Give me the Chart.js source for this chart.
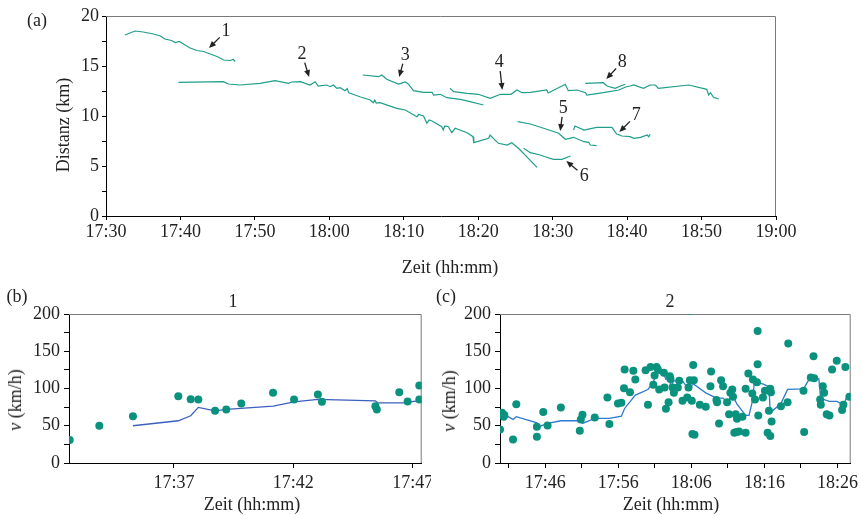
<!DOCTYPE html>
<html>
<head>
<meta charset="utf-8">
<script src="https://cdn.jsdelivr.net/npm/chart.js@4.4.0/dist/chart.umd.min.js"></script>
<style>
  body { margin: 0; width: 863px; height: 515px; overflow: hidden; position: relative; background: #fff;
         font-family: "Liberation Serif", "Times New Roman", serif; color: #222; }
  canvas { position: absolute; }
  .t { position: absolute; font-size: 18px; line-height: 1; white-space: nowrap; transform: translate(-50%, -50%); }
  .rot { transform: translate(-50%, -50%) rotate(-90deg); }
</style>
</head>
<body>
<canvas id="chart-a" width="863" height="280" style="left:0;top:0"></canvas>
<canvas id="chart-b" width="431" height="235" style="left:0;top:280px"></canvas>
<canvas id="chart-c" width="432" height="235" style="left:431px;top:280px"></canvas>

<div class="t" style="left:37px;top:20px">(a)</div>
<div class="t rot" style="left:63px;top:125px">Distanz (km)</div>
<div class="t" style="left:450px;top:267px">Zeit (hh:mm)</div>
<div class="t" style="left:17px;top:296px">(b)</div>
<div class="t" style="left:233px;top:301px">1</div>
<div class="t rot" style="left:15px;top:400px"><i>v</i> (km/h)</div>
<div class="t" style="left:252px;top:504px">Zeit (hh:mm)</div>
<div class="t" style="left:446px;top:296px">(c)</div>
<div class="t" style="left:670px;top:301px">2</div>
<div class="t rot" style="left:449px;top:401px"><i>v</i> (km/h)</div>
<div class="t" style="left:671px;top:504px">Zeit (hh:mm)</div>

<script>
// time values are minutes after 17:00
const track1 = [[32.55,18.1],[33.9,18.5],[35.0,18.4],[36.4,18.2],[37.3,18.0],[37.9,17.7],[38.8,17.55],[39.3,17.35],[39.85,17.45],[40.4,17.2],[41.3,16.8],[42.2,16.55],[43.1,16.45],[44.0,16.2],[44.9,15.95],[45.8,15.6],[46.7,15.55],[47.1,15.65],[47.35,15.45]];
const track2 = [[39.72,13.37],[45.77,13.43],[46.44,13.2],[48.0,13.1],[50.7,13.27],[52.7,13.53],[54.5,13.27],[54.96,13.4],[56.1,13.43],[57.4,13.1],[58.1,13.43],[58.5,13.0],[59.66,13.1],[60.1,12.93],[60.55,13.1],[61.0,12.77],[61.45,12.83],[62.1,12.53],[62.4,12.75],[62.6,12.33],[62.8,12.27],[64.1,11.93],[65.5,11.6],[65.9,11.33],[66.1,11.6],[66.3,11.3],[66.8,11.33],[69.06,10.77],[70.2,10.6],[71.76,9.93],[72.0,10.15],[72.65,10.0],[73.1,9.27],[73.4,9.6],[73.8,9.5],[75.1,8.93],[75.3,8.6],[75.5,9.0],[76.0,8.93],[76.45,8.33],[76.9,8.77],[78.5,8.33],[79.3,7.93],[79.4,7.33],[81.4,7.77],[81.6,8.1],[82.7,7.27],[83.9,7.1],[84.5,7.33],[85.4,6.77],[86.5,5.93],[87.9,4.87]];
const track3 = [[64.5,14.1],[66.6,13.93],[67.05,14.1],[67.7,13.67],[69.3,13.2],[70.2,13.4],[70.6,13.2],[71.3,12.53],[72.65,12.37],[73.8,12.37],[74.0,12.1],[74.9,12.17],[75.8,11.83],[77.6,11.67],[78.9,11.43],[80.7,11.1]];
const track4 = [[76.2,12.77],[76.7,12.43],[78.5,12.27],[80.0,12.17],[81.6,11.77],[83.0,12.17],[84.4,12.17],[85.2,12.6],[85.9,12.33],[87.0,12.37],[89.2,12.6],[89.4,12.3],[91.7,13.17],[92.1,12.53],[93.3,12.6],[94.4,12.33],[94.6,12.1],[96.8,12.33],[98.9,12.6],[99.8,12.9],[100.43,13.0],[100.87,13.1],[102.2,12.77],[103.1,13.1],[103.8,13.1],[104.2,12.77],[108.3,13.1],[110.7,12.67],[110.95,12.1],[111.2,12.33],[111.6,11.87],[112.3,11.7]];
const track5 = [[85.3,9.43],[87.0,9.2],[89.2,8.67],[90.8,8.27],[91.7,7.67],[92.8,7.87],[94.2,7.43],[94.85,7.37],[95.05,7.1],[95.9,7.03]];
const track6 = [[86.1,6.77],[87.0,6.33],[88.3,6.1],[89.0,5.93],[90.1,5.67],[91.25,5.67],[92.4,6.0]];
const track7 = [[92.8,8.6],[93.0,9.0],[94.2,8.6],[95.9,8.87],[97.96,8.87],[98.6,8.2],[99.3,8.0],[100.4,7.93],[100.9,7.77],[101.8,7.87],[102.7,8.1],[102.9,7.93],[103.1,8.17]];
const track8 = [[94.38,13.27],[96.8,13.33],[97.3,13.0],[98.4,12.77],[99.1,13.0],[99.76,13.17]];

// arrow labels in panel (a): text position and arrow tip, in data units
const markLabels = ["1","2","3","4","5","6","7","8"];
const markTextX = [46.13,56.34,70.19,82.82,91.42,94.25,101.24,99.35];
const markTextY = [18.5,16.2,16.1,15.4,10.8,4.0,10.1,15.4];
const markTipX = [43.84,57.28,69.38,83.23,91.02,91.83,98.95,97.2];
const markTipY = [16.8,13.9,13.9,12.6,8.5,5.5,8.4,13.7];

// panel (b): measured speeds and smoothed speed of vehicle 1
const speed1 = [[32.63,30.8],[33.87,50],[35.28,62.9],[37.18,89.7],[37.7,85.7],[38.02,85.3],[38.72,70.1],[39.19,71.9],[39.82,79.9],[41.15,94.2],[42.03,85.3],[43.03,92.0],[43.2,82.1],[45.44,76.3],[45.5,71.9],[46.44,95.1],[46.79,82.6],[47.28,104],[47.28,85.3]];
const smooth1 = [[35.28,50],[37.18,56.7],[37.7,63.4],[38.02,74.6],[38.72,70.1],[39.19,71.9],[41.16,76.3],[42.03,82.1],[43.03,85.3],[45.44,83.5],[45.53,80.8],[46.75,80.8],[47.03,82.6],[47.38,83.5]];

// panel (c): measured speeds and smoothed speed of vehicle 2
const speed2 = [[39.81,45.1],[40.08,67.4],[40.31,62.1],[40.4,64.3],[41.59,31.7],[42.04,79.0],[44.86,48.7],[44.86,35.3],[45.73,68.3],[46.32,50.4],[48.14,74.6],[50.73,43.3],[50.87,58.5],[51.1,64.7],[52.78,61.2],[54.51,88.0],[54.78,52.2],[55.96,79.9],[56.42,80.8],[56.78,100.4],[56.87,125.4],[57.6,95.1],[58.06,123.7],[58.33,112.1],[59.74,124.6],[60.06,78.1],[60.42,129.0],[60.79,104.9],[60.97,117.4],[61.24,129.0],[61.42,125.4],[61.6,98.7],[62.24,121.0],[62.33,101.3],[62.52,72.8],[62.88,81.7],[63.06,116.5],[63.15,112.9],[63.43,101.3],[63.61,94.2],[64.15,101.3],[64.34,110.3],[64.79,83.5],[65.43,88.0],[65.61,101.3],[65.65,204.5],[65.79,111.2],[66.06,83.5],[66.15,38.8],[66.25,131.7],[66.34,111.2],[66.43,37.9],[67.16,78.1],[67.97,75.4],[68.61,103.1],[68.7,122.8],[69.43,84.4],[69.52,81.7],[69.79,53.1],[70.07,111.2],[70.34,103.1],[70.89,81.7],[71.16,65.6],[71.34,94.2],[71.6,98.7],[71.7,88.8],[71.88,40.6],[72.07,65.6],[72.16,41.5],[72.25,59.4],[72.52,42.4],[72.98,62.1],[73.43,40.6],[73.43,99.6],[73.8,120.1],[74.34,93.3],[74.43,112.1],[74.71,85.3],[74.98,108.5],[75.07,177.2],[75.07,132.6],[75.16,63.8],[75.8,88.0],[76.07,96.9],[76.44,40.6],[76.62,70.1],[76.8,36.2],[76.8,99.6],[76.89,95.1],[76.98,55.8],[78.26,76.3],[79.17,81.7],[79.26,160.3],[81.35,96.9],[81.44,41.5],[82.35,114.7],[82.72,143.3],[82.81,113.8],[83.63,85.3],[83.72,78.1],[83.99,103.1],[84.17,94.2],[84.53,65.6],[84.9,63.8],[85.26,125.4],[85.9,137.1],[86.63,71.0],[86.81,78.1],[87.08,129.0],[87.63,88.8]];
const smooth2 = [[39.81,67.4],[40.31,65.6],[41.59,58.5],[42.04,62.1],[44.86,54.0],[45.18,48.7],[46.32,53.1],[48.14,56.7],[50.73,56.7],[51.1,53.1],[52.78,59.8],[54.78,59.8],[56.42,62.9],[56.87,73.2],[58.33,91.1],[60.06,98.7],[60.79,108.5],[61.24,121.0],[62.24,119.2],[62.52,112.1],[63.06,112.9],[63.15,103.1],[63.61,110.3],[64.79,110.3],[65.43,101.3],[66.34,105.8],[67.97,94.2],[69.43,87.1],[70.34,87.1],[70.89,81.7],[71.6,90.6],[72.25,79.0],[73.43,63.8],[73.89,63.8],[74.43,86.2],[74.61,108.5],[75.89,105.8],[76.62,102.2],[76.8,67.4],[78.26,79.9],[79.17,98.7],[81.35,99.6],[82.26,114.7],[83.45,112.9],[83.72,84.4],[84.08,85.3],[84.9,82.6],[85.9,82.6],[86.81,78.1],[87.26,88.0],[87.81,90.6]];

const xTicksA = [30,40,50,60,70,80,90,100,110,120];
const yTicksA = [0,2.5,5,7.5,10,12.5,15,17.5,20];
const xTicksB = [37,42,47];
const xTicksC = [41,46,51,56,61,66,71,76,81,86];
const xLabelsC = [46,56,66,76,86];
const yTicksV = [0,25,50,75,100,125,150,175,200];

const TEAL = "#1f9e8b";
const DOT = "#0a927e";
const FONT = { family: "'Liberation Serif', 'Times New Roman', serif", size: 18 };

const toXY = (arr) => arr.map(([x, y]) => ({ x, y }));
const hhmm = (m) => `${17 + Math.floor(m / 60)}:${String(Math.round(m % 60)).padStart(2, "0")}`;

// gray top and right border of the plot box
const frame = {
  id: "frame",
  beforeDatasetsDraw(chart) {
    const { ctx, chartArea: a } = chart;
    ctx.save();
    ctx.strokeStyle = "#7a7a7a";
    ctx.lineWidth = 1;
    ctx.beginPath();
    ctx.moveTo(a.left, a.top + 0.5);
    ctx.lineTo(a.right - 0.5, a.top + 0.5);
    ctx.lineTo(a.right - 0.5, a.bottom);
    ctx.stroke();
    ctx.restore();
  },
};

const arrows = {
  id: "arrows",
  afterDatasetsDraw(chart) {
    const { ctx, scales: { x, y } } = chart;
    ctx.save();
    ctx.font = "18px 'Liberation Serif', serif";
    ctx.fillStyle = "#222";
    ctx.strokeStyle = "#222";
    ctx.textAlign = "center";
    ctx.textBaseline = "middle";
    ctx.lineWidth = 1.3;
    markLabels.forEach((lab, i) => {
      const tx = x.getPixelForValue(markTextX[i]), ty = y.getPixelForValue(markTextY[i]);
      const hx = x.getPixelForValue(markTipX[i]), hy = y.getPixelForValue(markTipY[i]);
      ctx.fillText(lab, tx, ty);
      const dx = hx - tx, dy = hy - ty, len = Math.hypot(dx, dy);
      const ux = dx / len, uy = dy / len;
      ctx.beginPath();
      ctx.moveTo(tx + ux * 9, ty + uy * 9);
      ctx.lineTo(hx - ux * 5, hy - uy * 5);
      ctx.stroke();
      ctx.beginPath();
      ctx.moveTo(hx, hy);
      ctx.lineTo(hx - ux * 7 - uy * 3, hy - uy * 7 + ux * 3);
      ctx.lineTo(hx - ux * 7 + uy * 3, hy - uy * 7 - ux * 3);
      ctx.closePath();
      ctx.fill();
    });
    ctx.restore();
  },
};

function xAxis(min, max, ticks, height, label, tickLen, pad) {
  return {
    type: "linear", min, max,
    afterBuildTicks: (s) => { s.ticks = ticks.map((v) => ({ value: v })); },
    afterFit: (s) => { s.height = height; s.paddingLeft = 0; s.paddingRight = 0; },
    border: { color: "#000", width: 1 },
    grid: { drawOnChartArea: false, tickLength: tickLen, tickColor: "#000" },
    ticks: { font: FONT, color: "#222", padding: pad, maxRotation: 0, autoSkip: false, callback: label },
  };
}

function yAxis(min, max, ticks, width, major, tickLen, pad) {
  return {
    min, max,
    afterBuildTicks: (s) => { s.ticks = ticks.map((v) => ({ value: v })); },
    afterFit: (s) => { s.width = width; s.paddingTop = 0; s.paddingBottom = 0; },
    border: { color: "#000", width: 1 },
    grid: { drawOnChartArea: false, tickLength: tickLen, tickColor: "#000" },
    ticks: { font: FONT, color: "#222", padding: pad, autoSkip: false, callback: (v) => (v % major === 0 ? v : "") },
  };
}

const base = {
  responsive: false,
  animation: false,
  plugins: { legend: { display: false }, tooltip: { enabled: false } },
};

const tracks = [track1, track2, track3, track4, track5, track6, track7, track8];

new Chart(document.getElementById("chart-a"), {
  type: "scatter",
  data: {
    datasets: tracks.map((t) => ({
      data: toXY(t), showLine: true, pointRadius: 0, borderColor: TEAL, borderWidth: 1.2, tension: 0,
    })),
  },
  options: {
    ...base,
    layout: { padding: { left: 0, right: 87, top: 16, bottom: 0 } },
    scales: {
      x: xAxis(30, 120, xTicksA, 64, (v) => hhmm(v), 4, 1),
      y: yAxis(0, 20, yTicksA, 106, 5, 4, 3),
    },
  },
  plugins: [frame, arrows],
});

function speedPanel(id, dots, smooth, xmin, xmax, xticks, xlabel, rightPad, lineColor) {
  new Chart(document.getElementById(id), {
    type: "scatter",
    data: {
      datasets: [
        { data: toXY(smooth), showLine: true, pointRadius: 0, borderColor: lineColor, borderWidth: 1.3, order: 2 },
        { data: toXY(dots), pointRadius: 4, backgroundColor: DOT, borderWidth: 0, clip: 0, order: 1 },
      ],
    },
    options: {
      ...base,
      layout: { padding: { left: 0, right: rightPad, top: 34, bottom: 0 } },
      scales: {
        x: xAxis(xmin, xmax, xticks, 52, xlabel, 5, 4),
        y: yAxis(0, 200, yTicksV, 69, 50, 5, 4),
      },
    },
    plugins: [frame],
  });
}

speedPanel("chart-b", speed1, smooth1, 32.6, 47.38, xTicksB, (v) => hhmm(v), 9.3, "#3d5fbf");
speedPanel("chart-c", speed2, smooth2, 39.81, 87.81, xTicksC, (v) => (xLabelsC.includes(v) ? hhmm(v) : ""), 12.3, "#2f7ad0");
</script>
</body>
</html>
